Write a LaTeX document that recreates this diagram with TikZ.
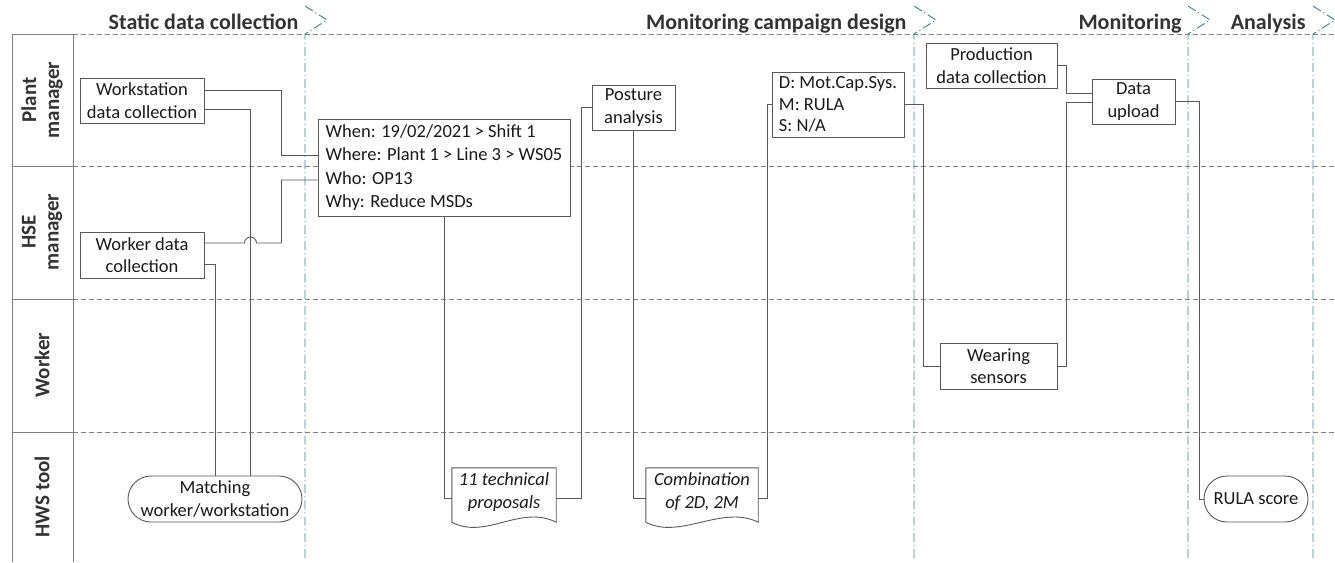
\documentclass[tikz,border=0pt]{standalone}
\usepackage{fontspec}
\setmainfont{Carlito}
\definecolor{linegray}{HTML}{595959}
\definecolor{lanegray}{HTML}{7F7F7F}
\definecolor{phaseblue}{HTML}{31849B}
\definecolor{txt}{HTML}{1A1A1A}
\definecolor{titletxt}{HTML}{333333}
\begin{document}
\begin{tikzpicture}[x=1pt,y=-1pt,
  conn/.style={draw=linegray,line width=0.9pt},
  box/.style={draw=linegray,line width=0.9pt,fill=white,text=txt,align=center,inner sep=2pt,
    font=\fontsize{18.5}{22.5}\selectfont},
  listbox/.style={box,align=left,inner xsep=5pt,anchor=center},
  stadium/.style={box,rounded corners=23pt},
  docbox/.style={text=txt,align=center,inner sep=2pt,font=\fontsize{18.5}{22.5}\selectfont\itshape},
  lanesep/.style={draw=lanegray,line width=0.8pt,dash pattern=on 5pt off 3pt},
  lanesolid/.style={draw=lanegray,line width=0.8pt},
  phaseline/.style={draw=phaseblue,line width=0.9pt,dash pattern=on 9pt off 3pt on 1.2pt off 3pt},
  phasetitle/.style={anchor=base east,text=titletxt,font=\fontsize{22}{26}\selectfont\bfseries},
  lanetitle/.style={rotate=90,text=titletxt,align=center,font=\fontsize{21}{23}\selectfont\bfseries}]
\useasboundingbox (0,0) rectangle (1335,562);

% swimlane frame
\foreach \y in {34,166,299,432}{
  \draw[lanesolid] (12,\y) -- (73,\y);
  \draw[lanesep] (73,\y) -- (1335,\y);
}
\draw[lanesolid] (12,34) -- (12,562);
\draw[lanesolid] (73,34) -- (73,562);

\node[lanetitle] (lplant) at (42,100) {Plant\\manager};
\node[lanetitle] (lhse) at (42,232) {HSE\\manager};
\node[lanetitle] (lworker) at (42,365) {Worker};
\node[lanetitle] (ltool) at (42,497) {HWS tool};

% phase separators with chevrons
\foreach \x in {305,914,1188,1313}{
  \draw[phaseline] (\x,558) -- (\x,34) -- (\x+22,20) -- (\x,6);
}
\node[phasetitle] (p1) at (302,29) {Static data collection};
\node[phasetitle] (p2) at (910,29) {Monitoring campaign design};
\node[phasetitle] (p3) at (1185,29) {Monitoring};
\node[phasetitle] (p4) at (1309,29) {Analysis};

% activities
\node[box,minimum width=124pt,minimum height=45pt] (ws) at (142,100.5) {Workstation\\data collection};
\node[box,minimum width=124pt,minimum height=46pt] (wk) at (142,255) {Worker data\\collection};
\node[stadium,minimum width=174pt,minimum height=46pt] (match) at (215,499) {Matching\\worker/workstation};
\node[listbox,minimum width=252pt,minimum height=97pt,font=\fontsize{18.5}{23.3}\selectfont] (when) at (444,167.5)
  {When: 19/02/2021 > Shift 1\\Where: Plant 1 > Line 3 > WS05\\Who: OP13\\Why: Reduce MSDs};
\node[box,minimum width=83pt,minimum height=45pt] (posture) at (633.5,107.5) {Posture\\analysis};
\node[listbox,minimum width=132pt,minimum height=65pt,font=\fontsize{18.5}{21.5}\selectfont] (dms) at (838,104.5)
  {D: Mot.Cap.Sys.\\M: RULA\\S: N/A};
\node[docbox,minimum width=104pt,minimum height=48pt] (tech) at (504,492) {11 technical\\proposals};
\node[docbox,minimum width=112pt,minimum height=48pt] (comb) at (702,492) {Combination\\of 2D, 2M};
\node[box,minimum width=131pt,minimum height=45pt] (prod) at (991.5,65.5) {Production\\data collection};
\node[box,minimum width=83pt,minimum height=45pt] (upload) at (1133.5,101.5) {Data\\upload};
\node[box,minimum width=117pt,minimum height=46pt] (wear) at (998.5,366) {Wearing\\sensors};
\node[stadium,minimum width=104pt,minimum height=46pt] (rula) at (1256,499) {RULA score};

% document outlines with wavy bottom edge
\foreach \d in {tech,comb}{
  \draw[conn] (\d.north west) -- (\d.north east) -- ([yshift=-6pt]\d.south east)
    .. controls ([xshift=-36pt,yshift=12pt]\d.south east) and ([xshift=34pt,yshift=-24pt]\d.south west)
    .. ([yshift=-6pt]\d.south west) -- cycle;
}

% connectors
\draw[conn] ([yshift=10.5pt]ws.east) -- ++(77,0) |- ([yshift=12.5pt]when.west);
\draw[conn] ([yshift=-8.5pt]ws.east) -| ([xshift=35pt]match.north);
\draw[conn] ([yshift=12pt]wk.east) -- ++(40,0) arc (180:0:6pt) -- ++(25,0) |- ([yshift=-12.5pt]when.west);
\draw[conn] ([yshift=-9pt]wk.east) -| (match.north);
\draw[conn] (when.south) |- ([yshift=-6pt]tech.west);
\draw[conn] ([yshift=-6pt]tech.east) -- ++(25,0) |- (posture.west);
\draw[conn] (posture.south) |- ([yshift=-6pt]comb.west);
\draw[conn] ([yshift=-6pt]comb.east) -- ++(9,0) |- (dms.west);
\draw[conn] (dms.east) -- ++(19,0) |- (wear.west);
\draw[conn] (wear.east) -- ++(9,0) |- ([yshift=-0.5pt]upload.west);
\draw[conn] (prod.east) -- ++(9,0) |- ([yshift=8.5pt]upload.west);
\draw[conn] (upload.east) -- ++(24,0) |- (rula.west);
\end{tikzpicture}
\end{document}
